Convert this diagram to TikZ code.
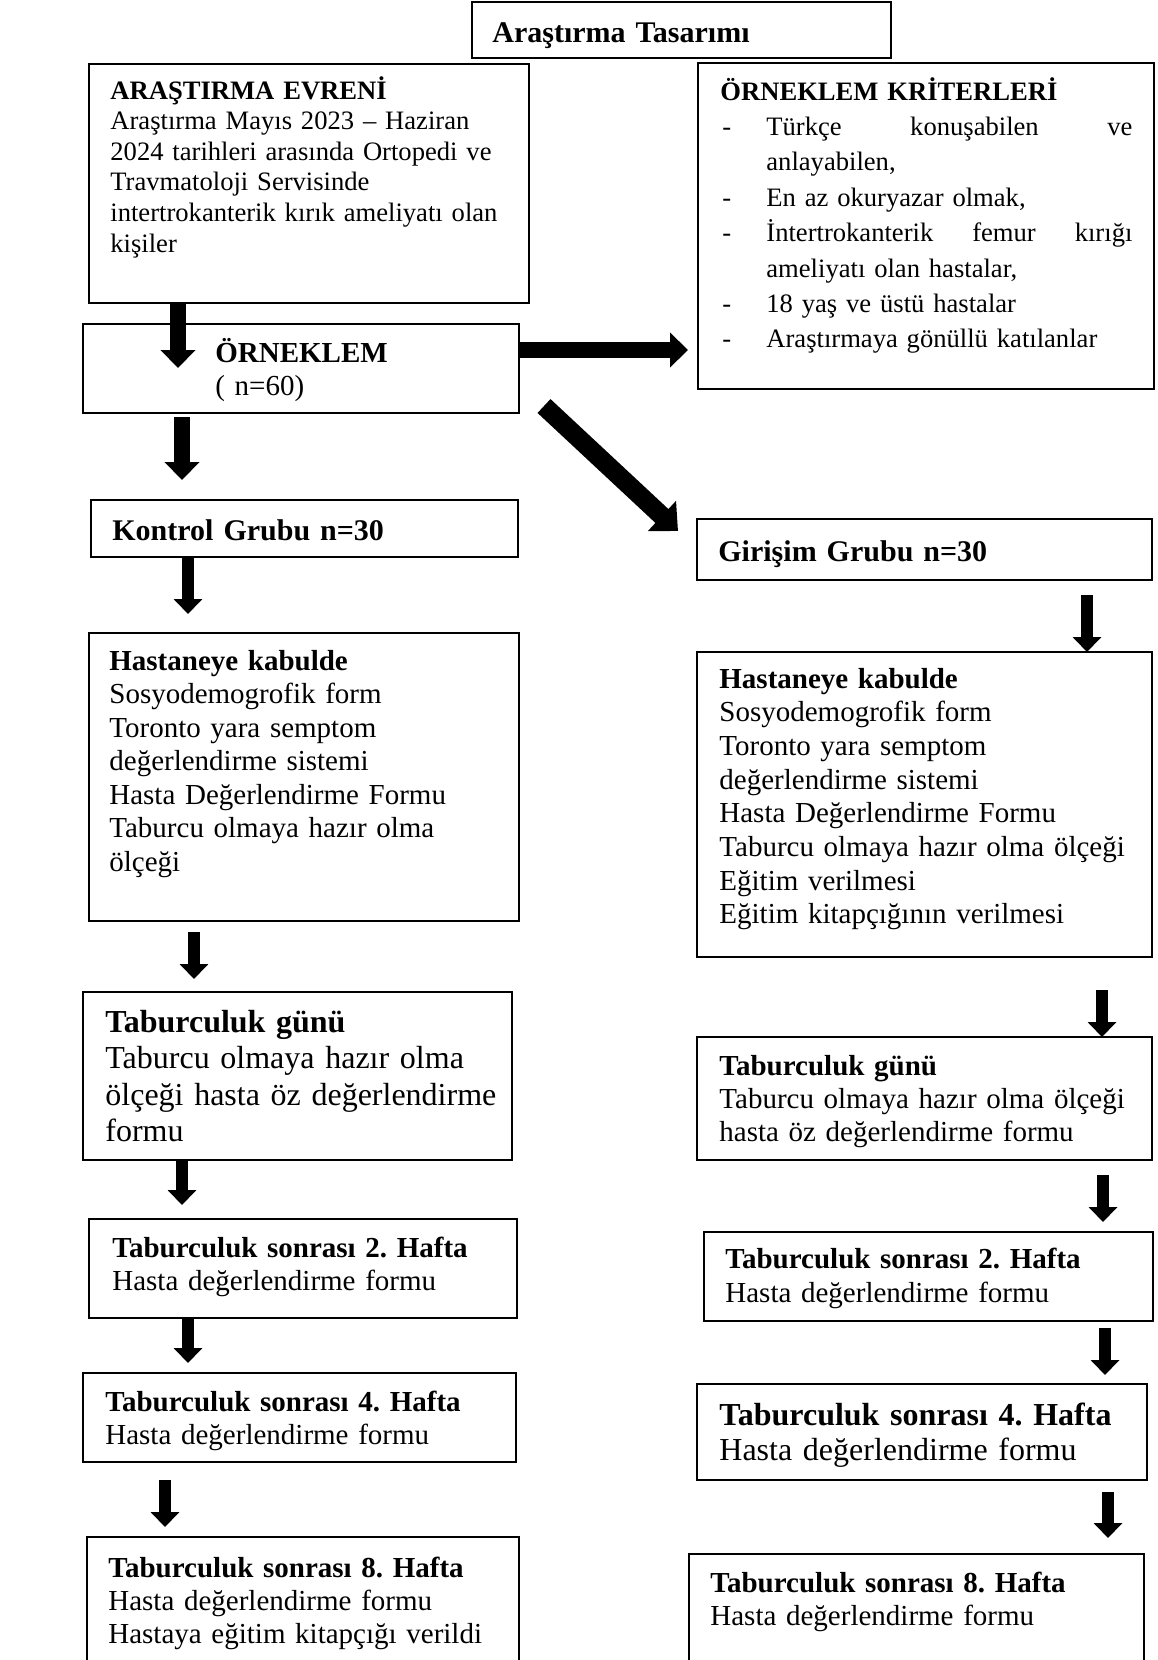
\documentclass[tikz,border=0pt]{standalone}
\usepackage{fontspec}
\setmainfont{Liberation Serif}
\usetikzlibrary{arrows.meta}
\frenchspacing

\begin{document}
\begin{tikzpicture}[x=0.5pt, y=-0.5pt,
  kutu/.style={draw, line width=0.8pt, rectangle, anchor=north west, inner sep=0pt, outer sep=0pt},
  yazi/.style={anchor=base west, inner sep=0pt, align=left, text width=#1},
  ok/.style={line width=6pt, -{Triangle[width=14pt,length=7.5pt]}},
  kalinok/.style={line width=8pt, -{Triangle[width=17pt,length=9pt]}},
  capraz/.style={line width=9.5pt, -{Triangle[width=20pt,length=11pt]}}]

  \newcommand\birim{0.5pt}
  \newcommand\kutu[5]{\node[kutu, minimum width=#4*\birim, minimum height=#5*\birim] (#1) at (#2,#3) {};}
  \newcommand\madde{\makebox[23pt][l]{\hspace{1pt}-}}

  \useasboundingbox (0,0) rectangle (1157,1660);

  %% kutular: isim, x, y, genislik, yukseklik (px)
  \kutu{baslik}{472}{2}{419}{56}
  \kutu{evren}{89}{64}{440}{239}
  \kutu{kriter}{698}{63}{456}{326}
  \kutu{orneklem}{83}{324}{436}{89}
  \kutu{kontrol}{91}{500}{427}{57}
  \kutu{girisim}{697}{519}{455}{61}
  \kutu{hastL}{89}{633}{430}{288}
  \kutu{hastR}{697}{652}{455}{305}
  \kutu{gunuL}{83}{992}{429}{168}
  \kutu{gunuR}{697}{1037}{455}{123}
  \kutu{haftaIIL}{89}{1219}{428}{99}
  \kutu{haftaIIR}{704}{1232}{449}{89}
  \kutu{haftaIVL}{83}{1373}{433}{89}
  \kutu{haftaIVR}{697}{1384}{450}{96}
  \kutu{haftaVIIIL}{87}{1537}{432}{130}
  \kutu{haftaVIIIR}{689}{1554}{455}{115}

  %% yazilar
  \node[yazi=200pt, font=\bfseries\fontsize{15}{17}\selectfont] (baslikT) at (492,42) {Araştırma Tasarımı};
  \node[yazi=212pt, font=\fontsize{13.3}{15.3}\selectfont] (evrenT) at (110,99)
    {\textbf{ARAŞTIRMA EVRENİ}\\
     Araştırma Mayıs 2023 – Haziran\\
     2024 tarihleri arasında Ortopedi ve\\
     Travmatoloji Servisinde\\
     intertrokanterik kırık ameliyatı olan\\
     kişiler};
  \node[yazi=217pt, font=\fontsize{13.3}{17.7}\selectfont] (kriterT) at (720,100)
    {\textbf{ÖRNEKLEM KRİTERLERİ}\\
     \madde\hbox to 183pt{Türkçe\hfill konuşabilen\hfill ve}\\
     \hspace*{23pt}anlayabilen,\\
     \madde En az okuryazar olmak,\\
     \madde\hbox to 183pt{İntertrokanterik\hfill femur\hfill kırığı}\\
     \hspace*{23pt}ameliyatı olan hastalar,\\
     \madde 18 yaş ve üstü hastalar\\
     \madde Araştırmaya gönüllü katılanlar};
  \node[yazi=140pt, font=\fontsize{14.5}{16.5}\selectfont] (orneklemT) at (215,362)
    {\textbf{ÖRNEKLEM}\\( n=60)};
  \node[yazi=200pt, font=\bfseries\fontsize{15}{17}\selectfont] (kontrolT) at (112,540) {Kontrol Grubu n=30};
  \node[yazi=200pt, font=\bfseries\fontsize{15}{17}\selectfont] (girisimT) at (718,561) {Girişim Grubu n=30};
  \node[yazi=204pt, font=\fontsize{14.5}{16.75}\selectfont] (hastLT) at (109,670)
    {\textbf{Hastaneye kabulde}\\
     Sosyodemogrofik form\\
     Toronto yara semptom\\
     değerlendirme sistemi\\
     Hasta Değerlendirme Formu\\
     Taburcu olmaya hazır olma\\
     ölçeği};
  \node[yazi=214pt, font=\fontsize{14.5}{16.85}\selectfont] (hastRT) at (719,688)
    {\textbf{Hastaneye kabulde}\\
     Sosyodemogrofik form\\
     Toronto yara semptom\\
     değerlendirme sistemi\\
     Hasta Değerlendirme Formu\\
     Taburcu olmaya hazır olma ölçeği\\
     Eğitim verilmesi\\
     Eğitim kitapçığının verilmesi};
  \node[yazi=206pt, font=\fontsize{16}{18.3}\selectfont] (gunuLT) at (105,1032)
    {\textbf{Taburculuk günü}\\
     Taburcu olmaya hazır olma\\
     ölçeği hasta öz değerlendirme\\
     formu};
  \node[yazi=214pt, font=\fontsize{14.5}{16.5}\selectfont] (gunuRT) at (719,1075)
    {\textbf{Taburculuk günü}\\
     Taburcu olmaya hazır olma ölçeği\\
     hasta öz değerlendirme formu};
  \node[yazi=200pt, font=\fontsize{14.5}{16.5}\selectfont] (haftaIILT) at (112,1257)
    {\textbf{Taburculuk sonrası 2. Hafta}\\
     Hasta değerlendirme formu};
  \node[yazi=210pt, font=\fontsize{14.5}{17}\selectfont] (haftaIIRT) at (725,1268)
    {\textbf{Taburculuk sonrası 2. Hafta}\\
     Hasta değerlendirme formu};
  \node[yazi=204pt, font=\fontsize{14.5}{16.5}\selectfont] (haftaIVLT) at (105,1411)
    {\textbf{Taburculuk sonrası 4. Hafta}\\
     Hasta değerlendirme formu};
  \node[yazi=210pt, font=\fontsize{16}{17.5}\selectfont] (haftaIVRT) at (719,1425)
    {\textbf{Taburculuk sonrası 4. Hafta}\\
     Hasta değerlendirme formu};
  \node[yazi=204pt, font=\fontsize{14.5}{16.5}\selectfont] (haftaVIIILT) at (108,1577)
    {\textbf{Taburculuk sonrası 8. Hafta}\\
     Hasta değerlendirme formu\\
     Hastaya eğitim kitapçığı verildi};
  \node[yazi=210pt, font=\fontsize{14.5}{16.5}\selectfont] (haftaVIIIRT) at (710,1592)
    {\textbf{Taburculuk sonrası 8. Hafta}\\
     Hasta değerlendirme formu};

  %% oklar
  \draw[kalinok, shorten >=-22pt] (178,0 |- evren.south) -- (178,0 |- orneklem.north);
  \draw[kalinok, shorten <=2pt, shorten >=10pt] (182,0 |- orneklem.south) -- (182,0 |- kontrol.north);
  \draw[kalinok, shorten >=5pt] (orneklem.east |- 0,350) -- (kriter.west |- 0,350); %% kriterlere
  \draw[capraz] ([shift={(25,-7)}]orneklem.south east) -- ([shift={(-19,12)}]girisim.north west); %% girisim grubu

  \draw[ok, shorten >=9.5pt] (188,0 |- kontrol.south) -- (188,0 |- hastL.north);
  \draw[ok, shorten <=7.5pt] (1087,0 |- girisim.south) -- (1087,0 |- hastR.north);
  \draw[ok, shorten <=5.5pt, shorten >=6.5pt] (194,0 |- hastL.south) -- (194,0 |- gunuL.north);
  \draw[ok, shorten <=16.5pt] (1102,0 |- hastR.south) -- (1102,0 |- gunuR.north);
  \draw[ok, shorten >=7pt] (182,0 |- gunuL.south) -- (182,0 |- haftaIIL.north);
  \draw[ok, shorten <=7.5pt, shorten >=5pt] (1103,0 |- gunuR.south) -- (1103,0 |- haftaIIR.north);
  \draw[ok, shorten >=5pt] (188,0 |- haftaIIL.south) -- (188,0 |- haftaIVL.north);
  \draw[ok, shorten <=3.5pt, shorten >=4.5pt] (1105,0 |- haftaIIR.south) -- (1105,0 |- haftaIVR.north);
  \draw[ok, shorten <=9pt, shorten >=5pt] (165,0 |- haftaIVL.south) -- (165,0 |- haftaVIIIL.north);
  \draw[ok, shorten <=6pt, shorten >=8pt] (1108,0 |- haftaIVR.south) -- (1108,0 |- haftaVIIIR.north);
\end{tikzpicture}
\end{document}
